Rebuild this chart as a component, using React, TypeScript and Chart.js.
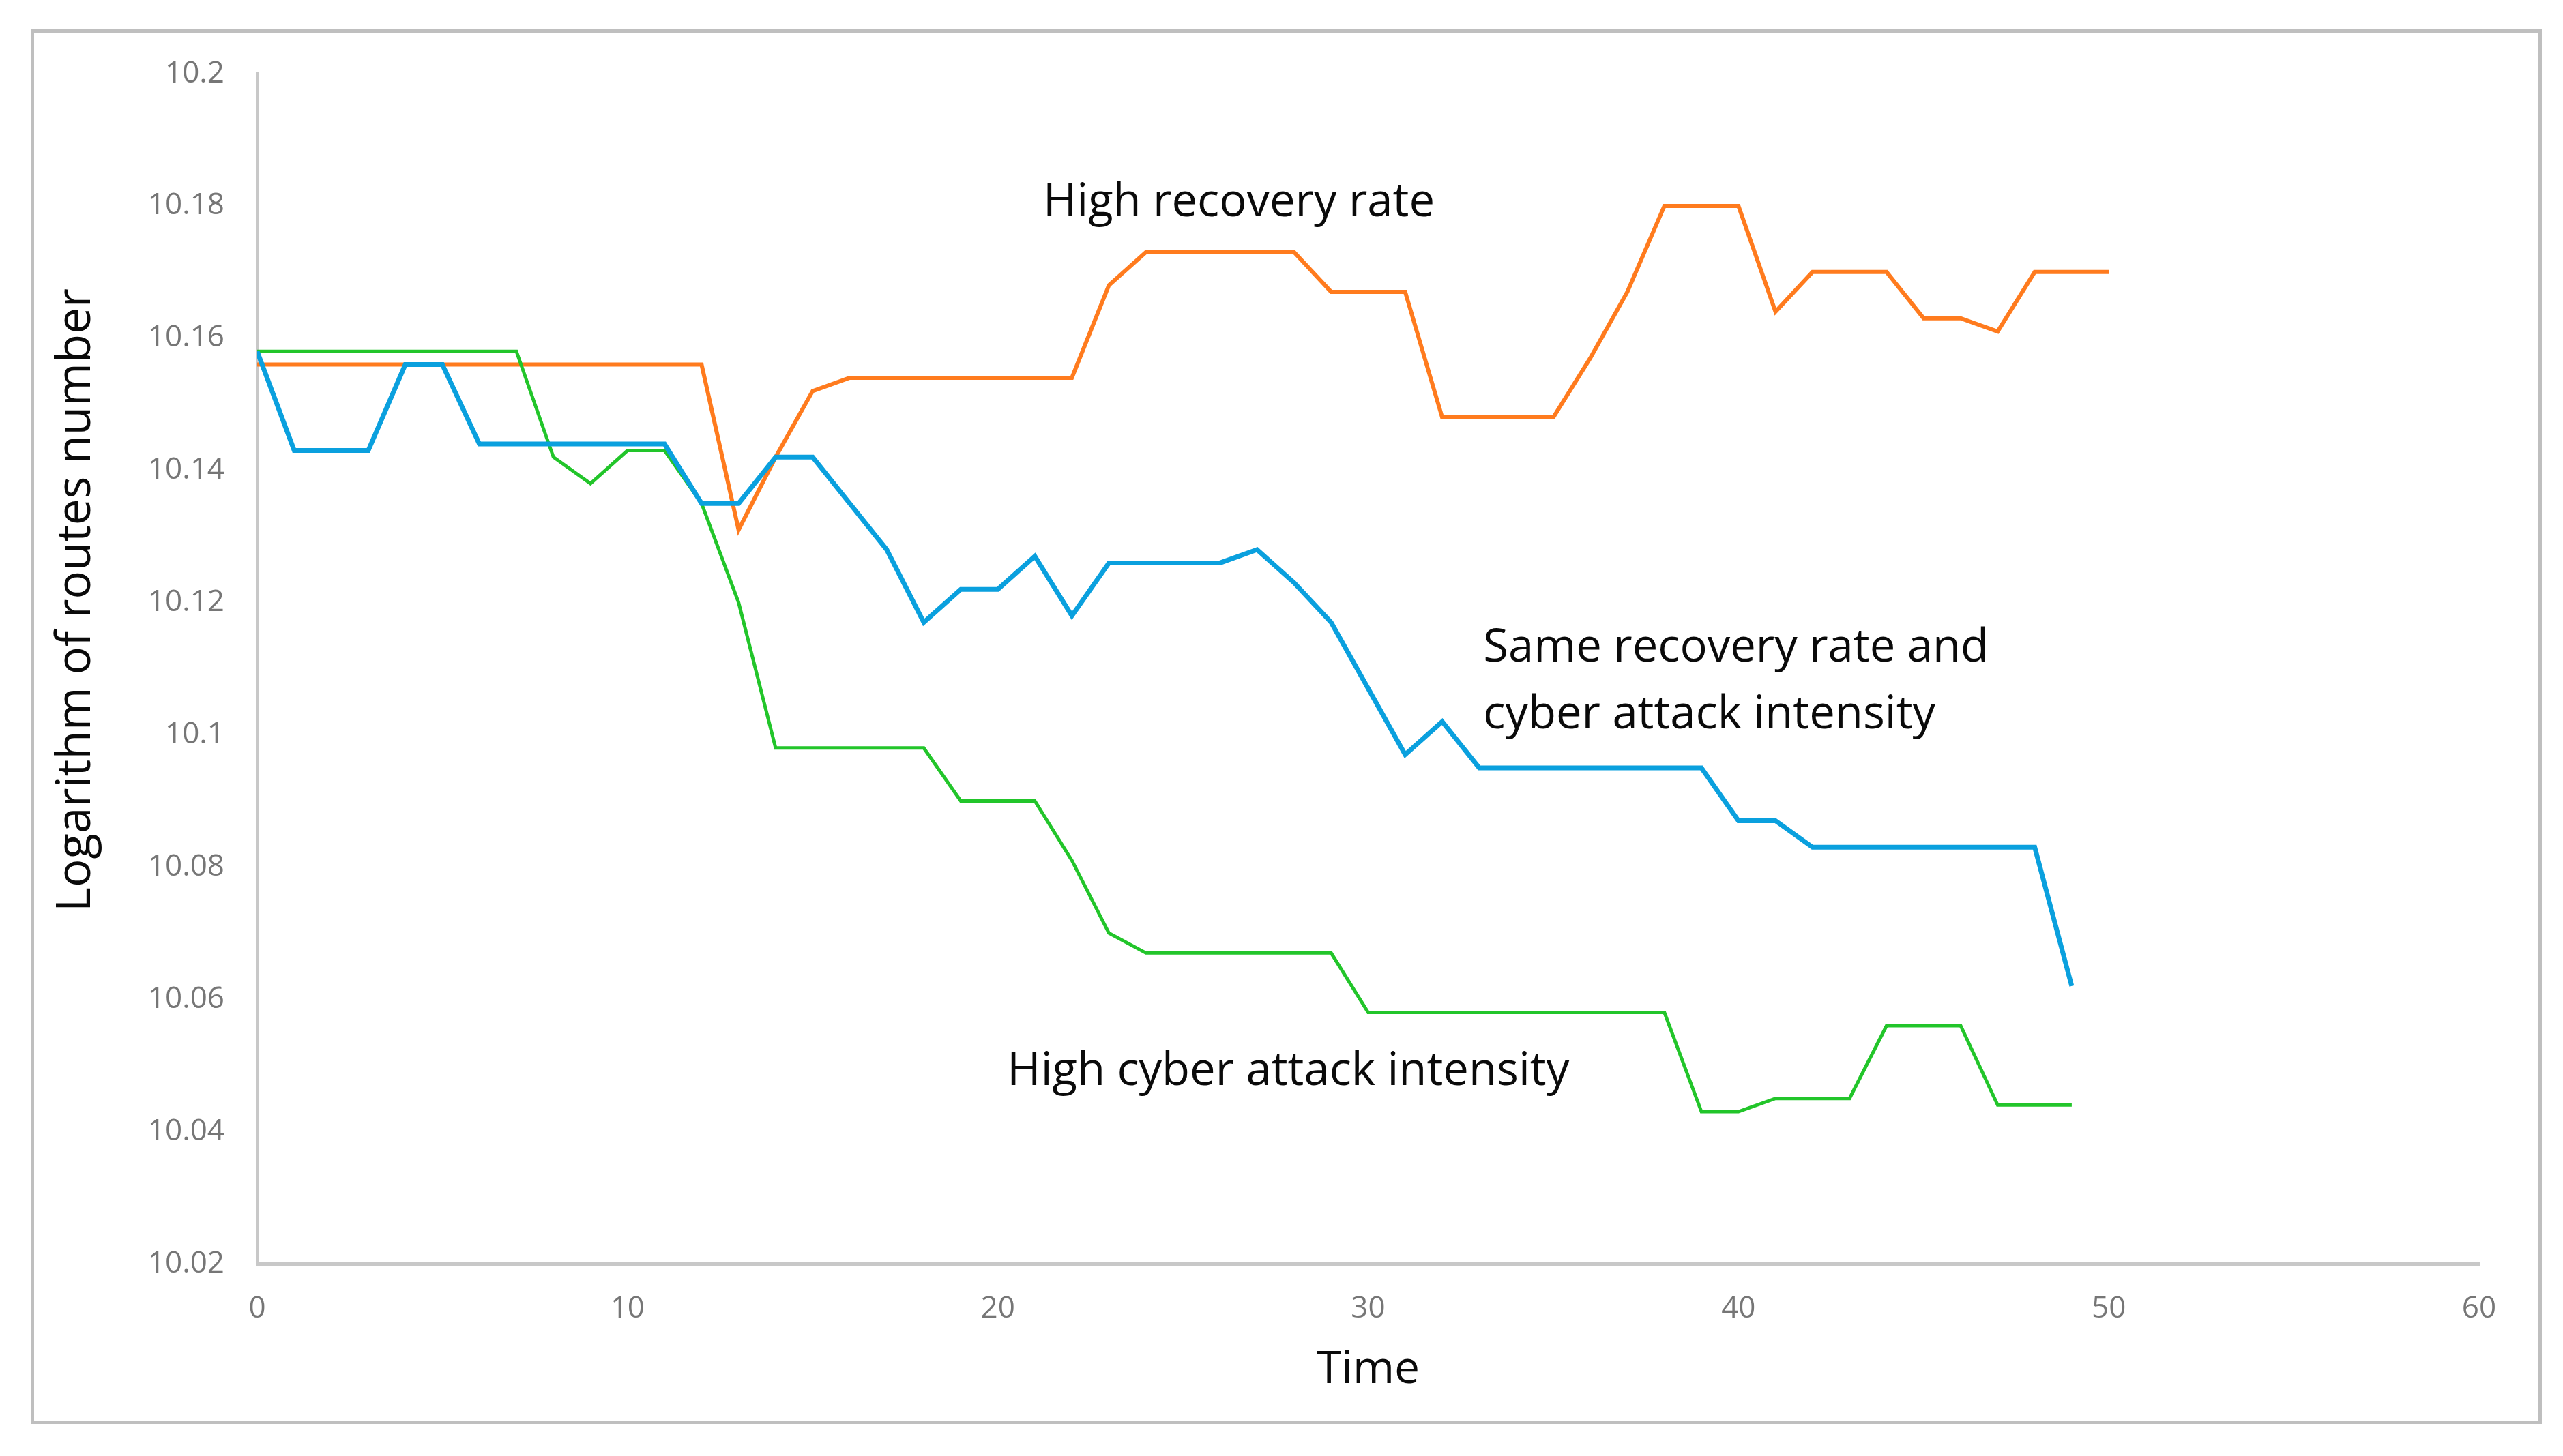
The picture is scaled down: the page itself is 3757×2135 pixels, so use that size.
import React, { useEffect, useRef } from "react";
import { Chart, registerables } from "chart.js";

Chart.register(...registerables);

// ---------- data ----------
const timeSteps = [
  0, 1, 2, 3, 4, 5, 6, 7, 8, 9, 10, 11, 12, 13, 14, 15, 16, 17, 18, 19, 20,
  21, 22, 23, 24, 25, 26, 27, 28, 29, 30, 31, 32, 33, 34, 35, 36, 37, 38, 39,
  40, 41, 42, 43, 44, 45, 46, 47, 48, 49, 50,
];

const seriesNames = [
  "Same recovery rate and cyber attack intensity",
  "High cyber attack intensity",
  "High recovery rate",
];

const highRecovery = [
  10.156, 10.156, 10.156, 10.156, 10.156, 10.156, 10.156, 10.156, 10.156,
  10.156, 10.156, 10.156, 10.156, 10.131, 10.142, 10.152, 10.154, 10.154,
  10.154, 10.154, 10.154, 10.154, 10.154, 10.168, 10.173, 10.173, 10.173,
  10.173, 10.173, 10.167, 10.167, 10.167, 10.148, 10.148, 10.148, 10.148,
  10.157, 10.167, 10.18, 10.18, 10.18, 10.164, 10.17, 10.17, 10.17, 10.163,
  10.163, 10.161, 10.17, 10.17, 10.17,
];

const sameRate = [
  10.158, 10.143, 10.143, 10.143, 10.156, 10.156, 10.144, 10.144, 10.144,
  10.144, 10.144, 10.144, 10.135, 10.135, 10.142, 10.142, 10.135, 10.128,
  10.117, 10.122, 10.122, 10.127, 10.118, 10.126, 10.126, 10.126, 10.126,
  10.128, 10.123, 10.117, 10.107, 10.097, 10.102, 10.095, 10.095, 10.095,
  10.095, 10.095, 10.095, 10.095, 10.087, 10.087, 10.083, 10.083, 10.083,
  10.083, 10.083, 10.083, 10.083, 10.062,
];

const highAttack = [
  10.158, 10.158, 10.158, 10.158, 10.158, 10.158, 10.158, 10.158, 10.142,
  10.138, 10.143, 10.143, 10.135, 10.12, 10.098, 10.098, 10.098, 10.098,
  10.098, 10.09, 10.09, 10.09, 10.081, 10.07, 10.067, 10.067, 10.067, 10.067,
  10.067, 10.067, 10.058, 10.058, 10.058, 10.058, 10.058, 10.058, 10.058,
  10.058, 10.058, 10.043, 10.043, 10.045, 10.045, 10.045, 10.056, 10.056,
  10.056, 10.044, 10.044, 10.044,
];

const xTicks = [0, 10, 20, 30, 40, 50, 60];
const yTicks = [
  10.02, 10.04, 10.06, 10.08, 10.1, 10.12, 10.14, 10.16, 10.18, 10.2,
];

const xTitle = "Time";
const yTitle = "Logarithm of routes number";

const labelTexts = [
  "High recovery rate",
  "Same recovery rate and",
  "cyber attack intensity",
  "High cyber attack intensity",
];

// ---------- layout / style ----------
const W = 3757;
const H = 2135;
const FONT = "'Open Sans', 'DejaVu Sans', sans-serif";

// text anchor positions (in data units) for the in-plot labels
const labelAnchors = [
  { x: 21.22, y: 10.1804 },
  { x: 33.11, y: 10.1131 },
  { x: 33.11, y: 10.1029 },
  { x: 20.25, y: 10.049 },
];

const toPoints = (ys: number[]) => ys.map((y, i) => ({ x: timeSteps[i], y }));

const annotationPlugin = {
  id: "inPlotLabels",
  afterDatasetsDraw(chart: any) {
    const { ctx, scales } = chart;
    ctx.save();
    ctx.fillStyle = "#0a0a0a";
    ctx.font = `67px ${FONT}`;
    ctx.textAlign = "left";
    ctx.textBaseline = "middle";
    labelTexts.forEach((t, i) => {
      const a = labelAnchors[i];
      ctx.fillText(t, scales.x.getPixelForValue(a.x), scales.y.getPixelForValue(a.y));
    });
    // y-axis title
    ctx.translate(112, 880);
    ctx.rotate(-Math.PI / 2);
    ctx.textAlign = "center";
    ctx.font = `69px ${FONT}`;
    ctx.fillText(yTitle, 0, 0);
    ctx.restore();
  },
};

export default function App() {
  const ref = useRef<HTMLCanvasElement | null>(null);

  useEffect(() => {
    if (!ref.current) return;
    const chart = new Chart(ref.current, {
      type: "line",
      data: {
        datasets: [
          {
            label: seriesNames[0],
            data: toPoints(sameRate),
            borderColor: "#0aa0de",
            borderWidth: 7,
            pointRadius: 0,
            tension: 0,
          },
          {
            label: seriesNames[1],
            data: toPoints(highAttack),
            borderColor: "#22c52a",
            borderWidth: 5,
            pointRadius: 0,
            tension: 0,
          },
          {
            label: seriesNames[2],
            data: toPoints(highRecovery),
            borderColor: "#ff7b1e",
            borderWidth: 6,
            pointRadius: 0,
            tension: 0,
          },
        ],
      },
      options: {
        animation: false,
        responsive: false,
        devicePixelRatio: 1,
        layout: { padding: { left: 0, top: 108, right: 123, bottom: 0 } },
        plugins: {
          legend: { display: false },
          tooltip: { enabled: false },
        },
        scales: {
          x: {
            type: "linear",
            min: 0,
            max: 60,
            afterBuildTicks: (s: any) => {
              s.ticks = xTicks.map((v) => ({ value: v }));
            },
            afterFit: (s: any) => {
              s.height = H - 1853;
            },
            grid: { display: false, drawTicks: false },
            border: { display: true, color: "#c8c8c8", width: 5 },
            ticks: {
              padding: 40,
              color: "#767676",
              font: { family: FONT, size: 44 },
              maxRotation: 0,
              callback: (v: any) => String(v),
            },
            title: {
              display: true,
              text: xTitle,
              color: "#0a0a0a",
              font: { family: FONT, size: 66 },
              padding: { top: 0, bottom: 86 },
            },
          },
          y: {
            type: "linear",
            min: 10.02,
            max: 10.2,
            afterBuildTicks: (s: any) => {
              s.ticks = yTicks.map((v) => ({ value: v }));
            },
            afterFit: (s: any) => {
              s.width = 377;
            },
            grid: { display: false, drawTicks: false },
            border: { display: true, color: "#c8c8c8", width: 5 },
            ticks: {
              padding: 48,
              color: "#767676",
              font: { family: FONT, size: 44 },
              callback: (v: any) => String(parseFloat(Number(v).toFixed(2))),
            },
          },
        },
      },
      plugins: [annotationPlugin],
    });
    return () => chart.destroy();
  }, []);

  return (
    <div
      style={{
        position: "absolute",
        left: 0,
        top: 0,
        width: W,
        height: H,
        background: "#ffffff",
        overflow: "hidden",
      }}
    >
      <div
        style={{
          position: "absolute",
          left: 45,
          top: 43,
          width: 3681,
          height: 2045,
          boxSizing: "border-box",
          border: "5px solid #bfbfbf",
        }}
      />
      <canvas
        ref={ref}
        width={W}
        height={H}
        style={{ position: "absolute", left: 0, top: 0 }}
      />
    </div>
  );
}
